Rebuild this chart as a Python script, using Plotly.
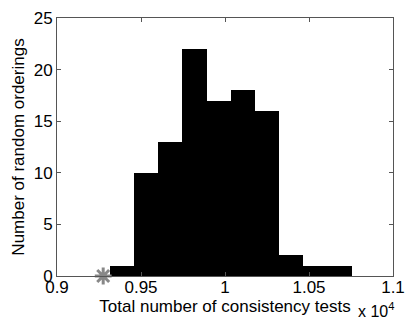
import plotly.graph_objects as go

# Histogram of total consistency tests (in units of 10^4) over random orderings
bin_centers = [0.9386, 0.9530, 0.9674, 0.9818, 0.9962, 1.0106, 1.0250, 1.0394, 1.0538, 1.0682]
counts = [1, 10, 13, 22, 17, 18, 16, 2, 1, 1]
bin_width = 0.0144

# Reference ordering value marked on the axis
marker_x = [0.9275]
marker_y = [0]

x_ticks = [0.9, 0.95, 1.0, 1.05, 1.1]
x_tick_text = ["0.9", "0.95", "1", "1.05", "1.1"]
y_ticks = [0, 5, 10, 15, 20, 25]

font_family = "Liberation Sans, Arial, sans-serif"
axis_color = "#555555"

fig = go.Figure()
fig.add_trace(go.Bar(
    x=bin_centers, y=counts, width=[bin_width] * len(counts),
    marker=dict(color="black", line=dict(width=0)),
    showlegend=False,
))
fig.add_trace(go.Scatter(
    x=marker_x, y=marker_y, mode="markers",
    marker=dict(symbol="asterisk-open", size=14, color="#888888",
                line=dict(color="#888888", width=3)),
    cliponaxis=False, showlegend=False,
))

fig.update_layout(
    width=405, height=320,
    margin=dict(l=57, r=12, t=18, b=44),
    paper_bgcolor="white", plot_bgcolor="white",
    font=dict(family=font_family, size=16, color="black"),
    bargap=0,
    showlegend=False,
)
fig.update_xaxes(
    range=[0.9, 1.1], tickvals=x_ticks, ticktext=x_tick_text,
    ticks="inside", ticklen=4, tickcolor=axis_color,
    showline=True, linecolor=axis_color, linewidth=1, mirror="ticks",
    showgrid=False, zeroline=False, automargin=False,
    ticklabelstandoff=-4,
    title=dict(text="Total number of consistency tests", standoff=0,
               font=dict(size=17)),
    tickfont=dict(size=17),
)
fig.update_yaxes(
    range=[0, 25], tickvals=y_ticks,
    ticks="inside", ticklen=4, tickcolor=axis_color,
    showline=True, linecolor=axis_color, linewidth=1, mirror="ticks",
    showgrid=False, zeroline=False, automargin=False,
    title=dict(text="Number of random orderings", standoff=4,
               font=dict(size=17)),
    tickfont=dict(size=17),
)
fig.add_annotation(
    text="x 10<sup>4</sup>", xref="paper", yref="paper",
    x=1.01, y=-0.085, xanchor="right", yanchor="top",
    showarrow=False, font=dict(size=16),
)

fig.write_html("out.html")
